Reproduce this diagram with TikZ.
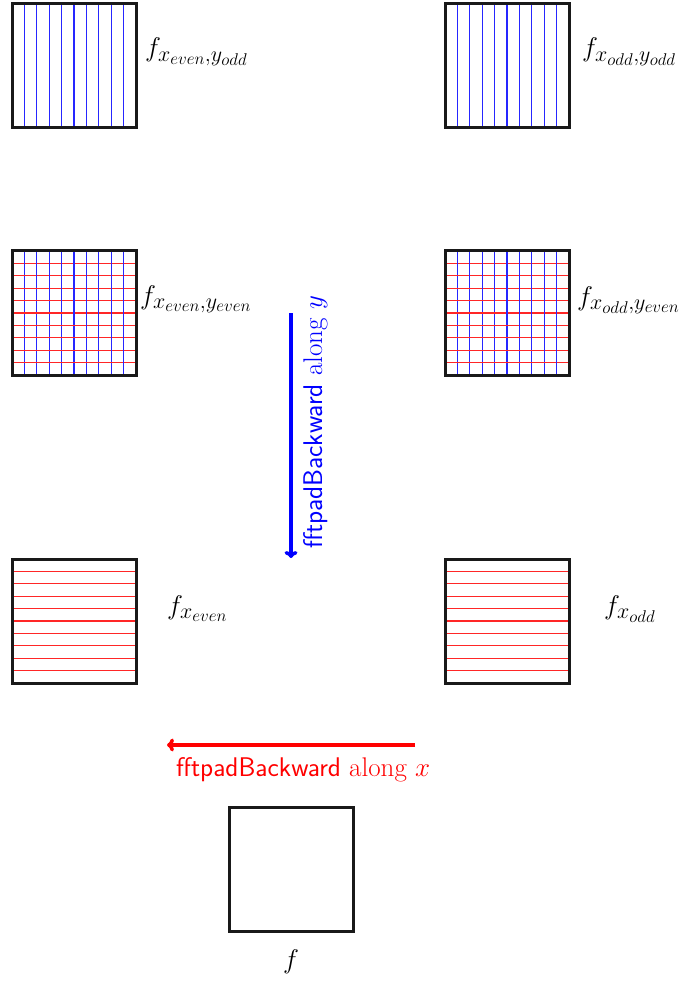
\RequirePackage{fix-cm}
\documentclass[tikz,border=0pt]{standalone}
\usetikzlibrary{calc,arrows.meta}
\DeclareMathSizes{27}{27}{22}{17}
\begin{document}
\begin{tikzpicture}[x=1pt,y=-1pt,
  box/.style={draw=black!90,line width=3pt,minimum size=124pt,inner sep=0pt,fill=white},
  vgrid/.style={path picture={\foreach \k in {1,...,9}{\draw[blue!85,line width=1.1pt]
      ($(path picture bounding box.north west)!\k/10!(path picture bounding box.north east)$) --
      ($(path picture bounding box.south west)!\k/10!(path picture bounding box.south east)$);}}},
  hgrid/.style={path picture={\foreach \k in {1,...,9}{\draw[red!85,line width=1.1pt]
      ($(path picture bounding box.north west)!\k/10!(path picture bounding box.south west)$) --
      ($(path picture bounding box.north east)!\k/10!(path picture bounding box.south east)$);}}},
  hvgrid/.style={path picture={\foreach \k in {1,...,9}{\draw[red!85,line width=1.1pt]
      ($(path picture bounding box.north west)!\k/10!(path picture bounding box.south west)$) --
      ($(path picture bounding box.north east)!\k/10!(path picture bounding box.south east)$);
      \draw[blue!85,line width=1.1pt]
      ($(path picture bounding box.north west)!\k/10!(path picture bounding box.north east)$) --
      ($(path picture bounding box.south west)!\k/10!(path picture bounding box.south east)$);}}},
  lbl/.style={inner sep=0pt,font=\fontsize{27}{32}\selectfont},
  arr/.style={line width=3.5pt,-{To[length=7pt,width=13pt]}}
]
\useasboundingbox (0,0) rectangle (686,981);
% boxes
\node[box,vgrid] (tl) at (74,65.5) {};
\node[box,vgrid] (tr) at (507,65.5) {};
\node[box,hvgrid] (ml) at (74,313) {};
\node[box,hvgrid] (mr) at (507,313) {};
\node[box,hgrid] (ll) at (74,621) {};
\node[box,hgrid] (lr) at (507,621) {};
\node[box] (b) at (291,869) {};
% labels
\node[lbl,anchor=base west] (ltl) at (145,57) {$f_{x_{even},y_{odd}}$};
\node[lbl,anchor=base west] (ltr) at (582,57) {$f_{x_{odd},y_{odd}}$};
\node[lbl,anchor=base west] (lml) at (140,304) {$f_{x_{even},y_{even}}$};
\node[lbl,anchor=base west] (lmr) at (577,305) {$f_{x_{odd},y_{even}}$};
\node[lbl,anchor=base west] (lll) at (167,614) {$f_{x_{even}}$};
\node[lbl,anchor=base west] (llr) at (604,614) {$f_{x_{odd}}$};
\node[lbl,anchor=base] (lb) at (291,968) {$f$};
% arrows
\coordinate (ys) at (291,313);
\coordinate (ye) at (291,558);
\draw[arr,blue] (ys) -- (ye);
\node[lbl,blue,rotate=90,anchor=base west] (ly) at (322,549) {\textsf{fftpadBackward} along $y$};
\coordinate (xs) at (415,745);
\coordinate (xe) at (167,745);
\draw[arr,red] (xs) -- (xe);
\node[lbl,red,anchor=base west] (lx) at (176,776) {\textsf{fftpadBackward} along $x$};
\end{tikzpicture}
\end{document}
